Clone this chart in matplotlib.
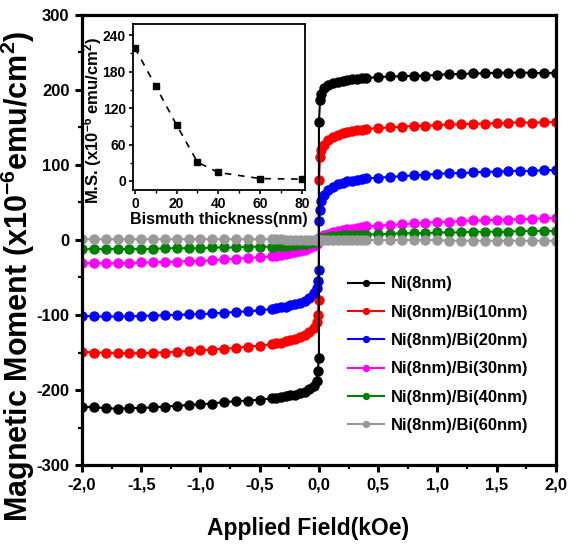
import matplotlib
matplotlib.use("Agg")
import matplotlib.pyplot as plt
from matplotlib.ticker import FuncFormatter, MultipleLocator

plt.rcParams["axes.unicode_minus"] = False
plt.rcParams["mathtext.fontset"] = "custom"
plt.rcParams["mathtext.rm"] = "Liberation Sans:bold"
plt.rcParams["mathtext.bf"] = "Liberation Sans:bold"
plt.rcParams["mathtext.it"] = "Liberation Sans:bold"

FONT = ["Liberation Sans", "DejaVu Sans"]

# field values (kOe): negative half ends at the jump, positive half starts at it
field_neg = [-2.0, -1.9, -1.8, -1.7, -1.6, -1.5, -1.4, -1.3, -1.2, -1.1, -1.0,
             -0.9, -0.8, -0.7, -0.6, -0.5, -0.4, -0.36, -0.32, -0.28, -0.24,
             -0.2, -0.16, -0.12, -0.08, -0.04, -0.02, -0.01, 0.0]
field_pos = [0.0, 0.01, 0.02, 0.04, 0.08, 0.12, 0.16, 0.2, 0.24, 0.28, 0.32,
             0.36, 0.4, 0.5, 0.6, 0.7, 0.8, 0.9, 1.0, 1.1, 1.2, 1.3, 1.4, 1.5,
             1.6, 1.7, 1.8, 1.9, 2.0]

ni_neg = [-222, -223, -224, -225, -224, -224, -223, -222, -221, -220, -219,
          -218, -216, -215, -214, -213, -211, -210, -209, -208, -207, -206,
          -204, -202, -199, -195, -188, -175, -157]
ni_pos = [157, 187, 194, 202, 207, 209, 211, 212, 213, 214, 215, 216, 216,
          217, 218, 218, 219, 219, 220, 221, 221, 222, 222, 223, 223, 223,
          223, 222, 223]

bi10_neg = [-149, -150, -150, -151, -151, -151, -150, -150, -149, -148, -147,
            -146, -145, -144, -142, -141, -139, -138, -137, -135, -134, -132,
            -130, -127, -123, -117, -110, -100, -80]
bi10_pos = [80, 110, 120, 127, 133, 137, 140, 142, 144, 145, 146, 147, 148,
            149, 150, 151, 152, 152, 153, 154, 154, 155, 155, 156, 156, 157,
            156, 157, 157]

bi20_neg = [-101, -102, -102, -102, -102, -101, -101, -100, -100, -99, -99,
            -98, -97, -96, -95, -94, -92, -91, -90, -89, -87, -86, -84, -81,
            -77, -71, -64, -55, -40]
bi20_pos = [25, 40, 52, 60, 67, 71, 74, 76, 78, 79, 80, 81, 82, 83, 84, 85,
            86, 87, 88, 89, 89, 90, 91, 91, 92, 92, 92, 93, 93]

bi30_neg = [-31, -31, -31, -31, -31, -30, -30, -29, -29, -28, -28, -27, -26,
            -25, -24, -23, -22, -21, -20, -19, -18, -16, -15, -13, -11, -8,
            -5, -3, -1]
bi30_pos = [2, 3, 4, 6, 8, 10, 12, 13, 14, 15, 16, 17, 18, 19, 20, 21, 22,
            23, 24, 24, 25, 26, 26, 27, 27, 28, 28, 29, 29]

bi40_neg = [-12, -12, -12, -12, -12, -12, -12, -11, -11, -11, -11, -10, -10,
            -10, -9, -9, -9, -8, -8, -8, -7, -7, -6, -5, -4, -3, -2, -1, 0]
bi40_pos = [0, 1, 2, 3, 4, 5, 5, 6, 6, 6, 7, 7, 7, 8, 8, 9, 9, 9, 10, 10,
            10, 11, 11, 11, 11, 12, 12, 12, 12]

bi60_neg = [1, 1, 1, 1, 1, 1, 1, 1, 1, 1, 1, 1, 1, 1, 1, 1, 1, 1, 1, 0, 0,
            0, 0, 0, 0, 0, 0, 0, 0]
bi60_pos = [0, 0, 0, 0, 0, 0, 0, 0, 0, 0, 0, 0, 0, 0, 0, 0, 0, 0, 0, -1, -1,
            -1, -1, -1, -1, -1, -1, -1, -1]

labels = ["Ni(8nm)", "Ni(8nm)/Bi(10nm)", "Ni(8nm)/Bi(20nm)",
          "Ni(8nm)/Bi(30nm)", "Ni(8nm)/Bi(40nm)", "Ni(8nm)/Bi(60nm)"]
colors = ["black", "red", "blue", "magenta", "green", "#999999"]
series_neg = [ni_neg, bi10_neg, bi20_neg, bi30_neg, bi40_neg, bi60_neg]
series_pos = [ni_pos, bi10_pos, bi20_pos, bi30_pos, bi40_pos, bi60_pos]

# inset: saturation moment vs Bi thickness
bi_thickness = [0, 10, 20, 30, 40, 60, 80]
sat_moment = [219, 156, 92, 31, 14, 4, 3]

fig = plt.figure(figsize=(5.7, 5.51), dpi=100)
ax = fig.add_axes([0.144, 0.156, 0.831, 0.817])

for i, (lab, col, mneg, mpos) in enumerate(zip(labels, colors, series_neg, series_pos)):
    # Ni curve on top so its vertical switching line crosses the others
    ax.plot(field_neg + field_pos, mneg + mpos, color=col, lw=1.5,
            marker="o", ms=6.5, mec=col, mfc=col, label=lab,
            zorder=3 if i == 0 else 2)

ax.set_xlim(-2.0, 2.0)
ax.set_ylim(-300, 300)
ax.xaxis.set_major_locator(MultipleLocator(0.5))
ax.xaxis.set_minor_locator(MultipleLocator(0.25))
ax.yaxis.set_major_locator(MultipleLocator(100))
ax.yaxis.set_minor_locator(MultipleLocator(50))
ax.xaxis.set_major_formatter(FuncFormatter(lambda v, p: f"{v:.1f}".replace(".", ",")))
ax.yaxis.set_major_formatter(FuncFormatter(lambda v, p: f"{v:.0f}"))
ax.tick_params(which="major", direction="out", length=5, width=2.2, pad=4)
ax.tick_params(which="minor", direction="out", length=3, width=1.6)
for lab in ax.get_xticklabels() + ax.get_yticklabels():
    lab.set_family(FONT)
    lab.set_fontweight("bold")
    lab.set_fontsize(12)
for sp in ax.spines.values():
    sp.set_linewidth(2.3)

ax.set_xlabel("Applied Field(kOe)", family=FONT, fontweight="bold",
              fontsize=16.5)
ax.xaxis.set_label_coords(0.477, -0.115)
ax.set_ylabel(r"Magnetic Moment (x10$^{-6}$emu/cm$^{2}$)", family=FONT,
              fontweight="bold", fontsize=22)
ax.yaxis.set_label_coords(-0.095, 0.42)

leg = ax.legend(loc="upper left", bbox_to_anchor=(0.561, 0.419), frameon=False,
                prop={"family": FONT, "weight": "bold", "size": 12},
                handlelength=2.2, handletextpad=0.4, labelspacing=0.8,
                borderpad=0, borderaxespad=0, markerscale=0.65)

# inset
axi = fig.add_axes([0.233, 0.655, 0.302, 0.301])
axi.plot(bi_thickness, sat_moment, color="black", lw=1.2, ls=(0, (4, 4)),
         marker="s", ms=5)
axi.set_xlim(-1, 81.5)
axi.set_ylim(-15, 258)
axi.set_xticks([0, 20, 40, 60, 80])
axi.set_yticks([0, 60, 120, 180, 240])
axi.xaxis.set_minor_locator(MultipleLocator(10))
axi.yaxis.set_minor_locator(MultipleLocator(30))
axi.tick_params(which="major", direction="out", length=3, width=1.2, pad=2)
axi.tick_params(which="minor", direction="out", length=2, width=1.0)
for lab in axi.get_xticklabels() + axi.get_yticklabels():
    lab.set_family(FONT)
    lab.set_fontweight("bold")
    lab.set_fontsize(10)
for sp in axi.spines.values():
    sp.set_linewidth(1.3)
axi.set_xlabel("Bismuth thickness(nm)", family=FONT, fontweight="bold",
               fontsize=11.5, labelpad=1)
axi.set_ylabel(r"M.S. (x10$^{-6}$ emu/cm$^{2}$)", family=FONT,
               fontweight="bold", fontsize=12)
axi.yaxis.set_label_coords(-0.165, 0.42)

fig.savefig("out.png", dpi=100)
